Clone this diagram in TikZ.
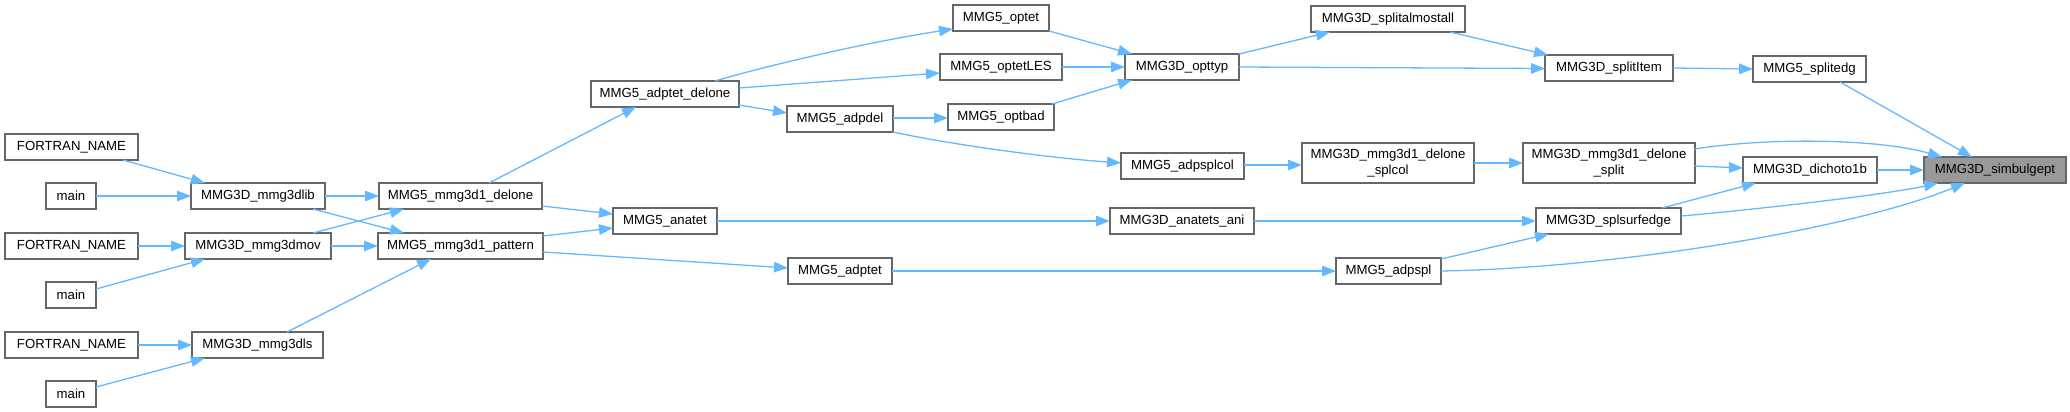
\documentclass[tikz,border=0pt]{standalone}
\usepackage{fontspec}
\setmainfont{Liberation Sans}
\usetikzlibrary{arrows.meta,calc}
\definecolor{edgec}{HTML}{63B8FF}
\definecolor{bordc}{HTML}{666666}
\definecolor{hilc}{HTML}{999999}
\tikzset{
  box/.style={draw=bordc,line width=1.2pt,fill=white,inner sep=0pt,outer sep=0pt,
    anchor=north west,align=center,font=\fontsize{13.2}{16.5}\selectfont},
  edg/.style={draw=edgec,line width=1.3pt,-{Triangle[length=14pt,width=10.5pt]}},
}
\newcommand\bx[7][]{\node[box,#1,minimum width=#5pt,minimum height=#6pt] (#2) at (#3,#4) {#7};}
\begin{document}
\begin{tikzpicture}[x=1pt,y=-1pt]
\useasboundingbox (0,0) rectangle (2070,412);
% nodes
\bx{fn1}{5}{134}{133}{26}{FORTRAN\_NAME}
\bx{main1}{46}{183}{50}{26}{main}
\bx{fn2}{5}{233}{133}{26}{FORTRAN\_NAME}
\bx{main2}{46}{282}{50}{26}{main}
\bx{fn3}{5}{332}{133}{26}{FORTRAN\_NAME}
\bx{main3}{46}{381}{50}{26}{main}
\bx{lib}{191}{183}{134}{26}{MMG3D\_mmg3dlib}
\bx{mov}{185}{233}{146}{26}{MMG3D\_mmg3dmov}
\bx{ls}{192}{332}{131}{26}{MMG3D\_mmg3dls}
\bx{delone}{379}{183}{163}{26}{MMG5\_mmg3d1\_delone}
\bx{pattern}{378}{233}{165}{26}{MMG5\_mmg3d1\_pattern}
\bx{adptetdel}{591}{81}{148}{26}{MMG5\_adptet\_delone}
\bx{anatet}{613}{208}{104}{26}{MMG5\_anatet}
\bx{adpdel}{787}{106}{106}{26}{MMG5\_adpdel}
\bx{adptet}{788}{258}{104}{26}{MMG5\_adptet}
\bx{optet}{953}{5}{96}{26}{MMG5\_optet}
\bx{optetles}{940}{54}{122}{26}{MMG5\_optetLES}
\bx{optbad}{948}{104}{106}{26}{MMG5\_optbad}
\bx{adpsplcol}{1121}{153}{123}{26}{MMG5\_adpsplcol}
\bx{anatetsani}{1110}{208}{144}{26}{MMG3D\_anatets\_ani}
\bx{opttyp}{1125}{54}{114}{26}{MMG3D\_opttyp}
\bx{splitalmost}{1311}{6}{154}{26}{MMG3D\_splitalmostall}
\bx{splcol}{1302}{143}{172}{40}{MMG3D\_mmg3d1\_delone\\\_splcol}
\bx{adpspl}{1336}{258}{105}{26}{MMG5\_adpspl}
\bx{splititem}{1545}{55}{128}{26}{MMG3D\_splitItem}
\bx{split}{1523}{143}{172}{40}{MMG3D\_mmg3d1\_delone\\\_split}
\bx{splsurf}{1536}{208}{145}{26}{MMG3D\_splsurfedge}
\bx{splitedg}{1753}{56}{113}{26}{MMG5\_splitedg}
\bx{dichoto}{1743}{157}{134}{26}{MMG3D\_dichoto1b}
\bx[fill=hilc]{simbul}{1924}{157}{142}{26}{MMG3D\_simbulgept}
% edges
\draw[edg] ($(fn1.north west)+(118,26)$) -- ($(lib.north west)+(14,0)$);
\draw[edg] (main1.east) -- (lib.west);
\draw[edg] (fn2.east) -- (mov.west);
\draw[edg] ($(main2.north west)+(50,7)$) -- ($(mov.north west)+(20,26)$);
\draw[edg] (fn3.east) -- (ls.west);
\draw[edg] ($(main3.north west)+(50,6)$) -- ($(ls.north west)+(13,26)$);
\draw[edg] (lib.east) -- (delone.west);
\draw[edg] ($(lib.north west)+(122,26)$) -- ($(pattern.north west)+(26,0)$);
\draw[edg] ($(mov.north west)+(128,0)$) -- ($(delone.north west)+(25,26)$);
\draw[edg] (mov.east) -- (pattern.west);
\draw[edg] ($(ls.north west)+(95,0)$) -- ($(pattern.north west)+(53,26)$);
\draw[edg] ($(delone.north west)+(110,0)$) -- ($(adptetdel.north west)+(45,26)$);
\draw[edg] ($(delone.north west)+(163,23)$) -- ($(anatet.north west)+(0,6)$);
\draw[edg] ($(pattern.north west)+(165,3)$) -- ($(anatet.north west)+(0,20)$);
\draw[edg] ($(pattern.north west)+(165,19)$) -- ($(adptet.north west)+(0,10)$);
\draw[edg] ($(adptetdel.north west)+(124,0)$) .. controls (780,62) and (880,40) .. ($(optet.north west)+(0,24)$);
\draw[edg] ($(adptetdel.north west)+(148,7)$) -- ($(optetles.north west)+(0,19)$);
\draw[edg] ($(adptetdel.north west)+(148,24)$) -- ($(adpdel.north west)+(0,7)$);
\draw[edg] ($(adpdel.north west)+(106,12)$) -- ($(optbad.north west)+(0,14)$);
\draw[edg] ($(adpdel.north west)+(106,26)$) .. controls (953,145) and (1051,158) .. ($(adpsplcol.north west)+(0,10)$);
\draw[edg] ($(optet.north west)+(96,26)$) -- ($(opttyp.north west)+(7,0)$);
\draw[edg] (optetles.east) -- (opttyp.west);
\draw[edg] ($(optbad.north west)+(104,0)$) -- ($(opttyp.north west)+(7,26)$);
\draw[edg] ($(opttyp.north west)+(114,0)$) -- ($(splitalmost.north west)+(19,26)$);
\draw[edg] ($(opttyp.north west)+(114,13)$) -- ($(splititem.north west)+(0,13.5)$);
\draw[edg] ($(splitalmost.north west)+(139,26)$) -- ($(splititem.north west)+(3,0)$);
\draw[edg] (splititem.east) -- ($(splitedg.north west)+(0,13)$);
\draw[edg] ($(splitedg.north west)+(87,26)$) -- ($(simbul.north west)+(48,0)$);
\draw[edg] ($(adpsplcol.north west)+(123,12)$) -- ($(splcol.north west)+(0,22)$);
\draw[edg] ($(splcol.north west)+(172,20)$) -- ($(split.north west)+(0,20)$);
\draw[edg] ($(split.north west)+(172,6)$) .. controls (1770,137) and (1880,139) .. ($(simbul.north west)+(18,0)$);
\draw[edg] ($(split.north west)+(172,23)$) -- ($(dichoto.north west)+(0,11)$);
\draw[edg] (dichoto.east) -- (simbul.west);
\draw[edg] (anatet.east) -- (anatetsani.west);
\draw[edg] (anatetsani.east) -- (splsurf.west);
\draw[edg] ($(splsurf.north west)+(126,0)$) -- ($(dichoto.north west)+(13,26)$);
\draw[edg] ($(splsurf.north west)+(145,8)$) .. controls (1730,212) and (1880,196) .. ($(simbul.north west)+(14,26)$);
\draw[edg] (adptet.east) -- (adpspl.west);
\draw[edg] ($(adpspl.north west)+(105,1)$) -- ($(splsurf.north west)+(13,26)$);
\draw[edg] ($(adpspl.north west)+(105,13)$) .. controls (1620,268) and (1855,228) .. ($(simbul.north west)+(41,26)$);
\end{tikzpicture}
\end{document}
